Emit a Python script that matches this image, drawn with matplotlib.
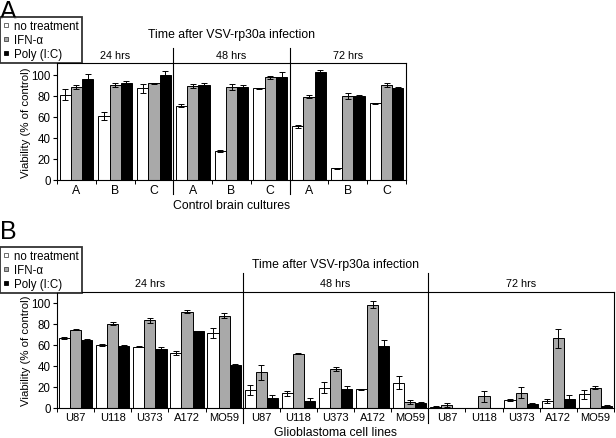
import matplotlib
matplotlib.use('Agg')
import matplotlib.pyplot as plt
import matplotlib.transforms as mtransforms
from matplotlib.lines import Line2D
import numpy as np

plt.rcParams['font.family'] = ['Liberation Sans', 'DejaVu Sans']

# ---------------- data ----------------
time_labels = ['24 hrs', '48 hrs', '72 hrs']
series_labels = ['no treatment', 'IFN-α', 'Poly (I:C)']
series_colors = ['white', '#a9a9a9', 'black']
title_text = 'Time after VSV-rp30a infection'

cultures_A = ['A', 'B', 'C']
a_no_treatment = [81, 60.5, 87, 70.5, 27.8, 87, 51, 11, 72.8]
a_no_treatment_err = [5, 4, 4, 1.5, 1, 0.5, 1.5, 0.5, 0.5]
a_ifn = [88.5, 90.5, 92, 89.5, 88.5, 97.5, 79, 79.5, 90]
a_ifn_err = [2, 2, 0.5, 2, 3, 1.5, 1.5, 3, 2]
a_poly = [95.5, 92, 100, 90.5, 88.5, 98, 102, 80, 87]
a_poly_err = [5, 1.5, 3, 2, 2, 4, 2, 1, 1]

cell_lines_B = ['U87', 'U118', 'U373', 'A172', 'MO59']
b_no_treatment = [66, 60, 58, 52, 71, 17, 14, 19.3, 17.7, 24, 1, 0, 7.3, 6.6, 13]
b_no_treatment_err = [1, 1, 0.5, 2, 5, 5, 2.5, 5.5, 0.3, 6, 0.5, 0, 1, 1.5, 4]
b_ifn = [74.4, 80, 83, 91.5, 87.7, 34, 51.5, 37.3, 98, 6, 2.8, 11, 14.6, 66, 19.3]
b_ifn_err = [0.5, 1.5, 2.5, 1.5, 2, 7, 0.5, 2, 3.5, 2, 2, 5.5, 5, 9, 1.5]
b_poly = [64.6, 59.2, 55.7, 72.8, 40.5, 9.5, 6.6, 17.7, 58.9, 4.4, 0, 0, 4.1, 8.9, 1.9]
b_poly_err = [1, 0.5, 2, 0, 1.5, 3, 3, 3, 6, 1, 0, 0, 0.5, 3, 0.5]

# ---------------- figure ----------------
W, H = 616, 439
fig = plt.figure(figsize=(W / 100, H / 100), dpi=100)


def px_axes(l, t, r, b):
    return fig.add_axes([l / W, 1 - b / H, (r - l) / W, (b - t) / H])


def draw_panel(ax, cats, series, errs, width, ymax, xlabel, tick_fs,
               sep_top, sep_bot, head_y, title_y, xlabel_y, ylabel_x):
    n = len(series[0])
    x = np.arange(n)
    for k in range(3):
        ax.bar(x + (k - 1) * width, series[k], width, color=series_colors[k],
               edgecolor='black', linewidth=0.7, zorder=2)
        e = np.array(errs[k], dtype=float)
        v = np.array(series[k], dtype=float)
        m = e > 0
        ax.errorbar((x + (k - 1) * width)[m], v[m], yerr=e[m], fmt='none',
                    ecolor='black', elinewidth=0.7, capsize=2, capthick=0.7,
                    zorder=3)
    ax.set_xlim(-0.5, n - 0.5)
    ax.set_ylim(0, ymax)
    ax.set_yticks(np.arange(0, 101, 20))
    ax.set_xticks(x)
    ax.set_xticklabels(cats * 3)
    ax.set_xticks(np.arange(-0.5, n, 1.0), minor=True)
    ax.tick_params(axis='x', which='major', length=0, labelsize=tick_fs, pad=3)
    ax.tick_params(axis='x', which='minor', length=3, width=0.7, direction='out')
    ax.tick_params(axis='y', length=3, width=0.8, direction='out', labelsize=8.3, pad=1.5)
    for s in ax.spines.values():
        s.set_linewidth(0.8)
        s.set_color('black')
    trans = mtransforms.blended_transform_factory(ax.transData, ax.transAxes)
    g = len(cats)
    for j in range(1, 3):
        xb = j * g - 0.5
        ax.plot([xb, xb], [sep_bot, sep_top], transform=trans, color='black',
                linewidth=0.8, clip_on=False)
    for j, t in enumerate(time_labels):
        ax.text(j * g + (g - 1) / 2, head_y, t, transform=trans, ha='center',
                va='center', fontsize=7.8)
    ax.text(0.5, title_y, title_text, transform=ax.transAxes, ha='center',
            va='center', fontsize=8.8)
    ax.text(0.5, xlabel_y, xlabel, transform=ax.transAxes, ha='center',
            va='center', fontsize=8.8)
    ax.text(ylabel_x, 0.5, 'Viability (% of control)', transform=ax.transAxes,
            ha='center', va='center', rotation=90, fontsize=8.2)


def add_legend(top_px):
    edge_cols = ['#555555', '#444444', 'black']
    handles = [Line2D([], [], marker='s', linestyle='none', markersize=3.3,
                      markerfacecolor=c, markeredgecolor=ec,
                      markeredgewidth=0.6)
               for c, ec in zip(series_colors, edge_cols)]
    leg = fig.legend(handles, series_labels, loc='upper left',
                     bbox_to_anchor=(0.0, 1 - top_px / H), frameon=True,
                     fancybox=False, edgecolor='black', fontsize=8.3,
                     handlelength=0.6, handletextpad=0.4, borderpad=0.25,
                     labelspacing=0.2, borderaxespad=0.0)
    leg.get_frame().set_linewidth(1.3)


# Panel A
axA = px_axes(57, 64, 406, 181)
draw_panel(axA, cultures_A, [a_no_treatment, a_ifn, a_poly],
           [a_no_treatment_err, a_ifn_err, a_poly_err], 0.29, 111,
           'Control brain cultures', 8.8,
           1.128, -0.12, 1.068, 1.248, -0.214, -0.088)
fig.text(0.0, 1.0, 'A', ha='left', va='top', fontsize=18)
add_legend(18)

# Panel B
axB = px_axes(57, 293, 614, 409)
draw_panel(axB, cell_lines_B, [b_no_treatment, b_ifn, b_poly],
           [b_no_treatment_err, b_ifn_err, b_poly_err], 0.3, 110,
           'Glioblastoma cell lines', 8.0,
           1.161, -0.132, 1.081, 1.245, -0.21, -0.055)
fig.text(0.0, 1 - 220 / H, 'B', ha='left', va='top', fontsize=18)
add_legend(248)

fig.savefig('out.png', dpi=100)
